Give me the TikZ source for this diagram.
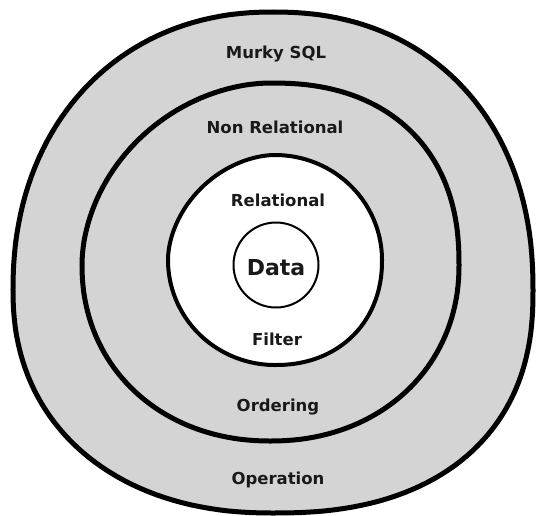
\documentclass[tikz,border=0pt]{standalone}
\usepackage{fontspec}
\setmainfont{DejaVu Sans}
\definecolor{ringgray}{RGB}{212,212,212}
\newcommand\setblob[9]{\def\bcx{#1}\def\bcy{#2}\def\baL{#3}\def\baR{#4}\def\brT{#5}\def\brB{#6}\def\bnTR{#7}\def\bnTL{#8}\def\bnB{#9}}
\tikzset{
  blobpath/.style={insert path={
    plot[domain=0:90,samples=45,variable=\t]
      ({\bcx+\baR*max(abs(cos(\t)),0.0001)^(2/\bnTR)},{\bcy-\brT*max(abs(sin(\t)),0.0001)^(2/\bnTR)})
    -- plot[domain=90:180,samples=45,variable=\t]
      ({\bcx-\baL*max(abs(cos(\t)),0.0001)^(2/\bnTL)},{\bcy-\brT*max(abs(sin(\t)),0.0001)^(2/\bnTL)})
    -- plot[domain=180:270,samples=45,variable=\t]
      ({\bcx-\baL*max(abs(cos(\t)),0.0001)^(2/\bnB)},{\bcy+\brB*max(abs(sin(\t)),0.0001)^(2/\bnB)})
    -- plot[domain=270:360,samples=45,variable=\t]
      ({\bcx+\baR*max(abs(cos(\t)),0.0001)^(2/\bnBR)},{\bcy+\brB*max(abs(sin(\t)),0.0001)^(2/\bnBR)})
    -- cycle}},
  ring/.style={draw=black,line width=#1,line join=round},
  lbl/.style={font=\bfseries\fontsize{16.5}{19}\selectfont,inner sep=0pt,text=black!90,anchor=base},
  datalbl/.style={font=\bfseries\fontsize{22}{26}\selectfont,inner sep=0pt,text=black!90,anchor=base}
}
\begin{document}
\begin{tikzpicture}[x=1pt,y=-1pt]
\useasboundingbox (0,0) rectangle (537,515);
% outer blob
\setblob{273}{290}{260}{260}{278}{223}{2.2}{2.15}{2.2}\def\bnBR{2.35}
\filldraw[ring=5pt,fill=ringgray,blobpath];
% middle blob
\setblob{270.5}{265}{188.5}{188.5}{182}{176}{2.3}{1.9}{2.1}\def\bnBR{2.1}
\filldraw[ring=5pt,fill=ringgray,blobpath];
% inner blob
\setblob{275}{260}{107}{107}{105}{105}{2.0}{1.85}{2.0}\def\bnBR{2.15}
\filldraw[ring=4pt,fill=white,blobpath];
% data circle
\node[draw=black,line width=2pt,fill=white,circle,minimum size=85pt,inner sep=0pt] (dataring) at (276,265) {};
\node[datalbl] (data) at (276,275) {Data};
\node[lbl] (murky) at (276,58) {Murky SQL};
\node[lbl] (nonrel) at (275,133) {Non Relational};
\node[lbl] (rel) at (278,206) {Relational};
\node[lbl] (filter) at (277,345) {Filter};
\node[lbl] (ordering) at (278,411) {Ordering};
\node[lbl] (operation) at (278,484) {Operation};
\end{tikzpicture}
\end{document}
